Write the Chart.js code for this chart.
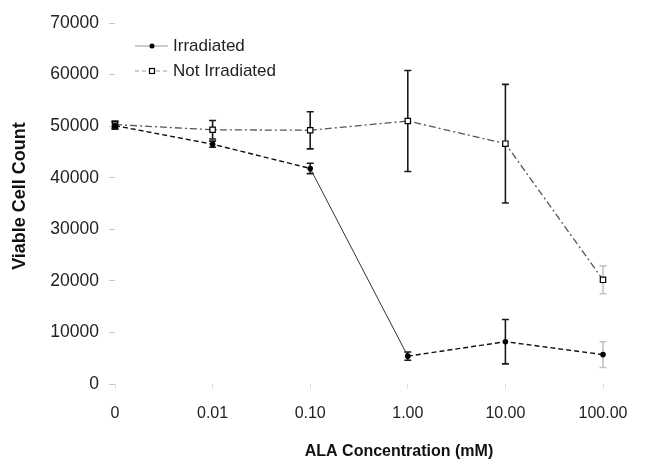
<!DOCTYPE html>
<html>
<head>
<meta charset="utf-8">
<script src="https://cdn.jsdelivr.net/npm/chart.js@4"></script>
<style>
  html, body { margin: 0; padding: 0; background: #fff; }
  #wrap { width: 649px; height: 460px; }
</style>
</head>
<body>
<div id="wrap"><canvas id="c" width="649" height="460"></canvas></div>
<script>
// ---- data ----
const categories = ["0", "0.01", "0.10", "1.00", "10.00", "100.00"];
const irradiated = [50100, 46500, 41800, 5400, 8200, 5700];
const irradiatedErr = [700, 600, 1000, 800, 4300, 2500];
const notIrradiated = [50300, 49300, 49200, 51000, 46600, 20200];
const notIrradiatedErr = [700, 1800, 3600, 9800, 11500, 2700];
const yTicks = [0, 10000, 20000, 30000, 40000, 50000, 60000, 70000];
const seriesNames = ["Irradiated", "Not Irradiated"];
const xTitle = "ALA Concentration (mM)";
const yTitle = "Viable Cell Count";

const FONT = "'Liberation Sans', Arial, sans-serif";

const errorBars = {
  id: 'errorBars',
  beforeDatasetsDraw(chart) {
    const ctx = chart.ctx;
    const xs = chart.scales.x, ys = chart.scales.y;
    chart.data.datasets.forEach((ds) => {
      const errs = ds.errors;
      if (!errs) return;
      ctx.save();
      ctx.lineWidth = 1.6;
      ds.data.forEach((v, i) => {
        // the last column's error bars are printed very faintly in the source
        ctx.strokeStyle = i === ds.data.length - 1 ? '#c4c4c4' : '#1a1a1a';
        const x = xs.getPixelForValue(i);
        const t = ys.getPixelForValue(v + errs[i]);
        const b = ys.getPixelForValue(v - errs[i]);
        ctx.beginPath();
        ctx.moveTo(x, t); ctx.lineTo(x, b);
        ctx.moveTo(x - 3.5, t); ctx.lineTo(x + 3.5, t);
        ctx.moveTo(x - 3.5, b); ctx.lineTo(x + 3.5, b);
        ctx.stroke();
      });
      ctx.restore();
    });
  }
};

const titlesAndLegend = {
  id: 'titlesAndLegend',
  afterDraw(chart) {
    const ctx = chart.ctx;
    // legend
    const x0 = 135, x1 = 168, rows = [46, 71];
    chart.data.datasets.forEach((ds, i) => {
      const y = rows[i];
      ctx.save();
      ctx.strokeStyle = '#9a9a9a';
      ctx.lineWidth = 1;
      ctx.setLineDash(i === 0 ? [] : [4, 3]);
      ctx.beginPath(); ctx.moveTo(x0, y); ctx.lineTo(x1, y); ctx.stroke();
      ctx.setLineDash([]);
      const cx = 152;
      if (i === 0) {
        ctx.fillStyle = '#000';
        ctx.beginPath(); ctx.arc(cx, y, 2.5, 0, Math.PI * 2); ctx.fill();
      } else {
        ctx.fillStyle = '#fff';
        ctx.strokeStyle = '#000';
        ctx.lineWidth = 1.2;
        ctx.fillRect(cx - 2.5, y - 2.5, 5, 5);
        ctx.strokeRect(cx - 2.5, y - 2.5, 5, 5);
      }
      ctx.fillStyle = '#222';
      ctx.font = '17px ' + FONT;
      ctx.textBaseline = 'middle';
      ctx.textAlign = 'left';
      ctx.fillText(ds.label, 173, y);
      ctx.restore();
    });
    // axis titles
    ctx.save();
    ctx.fillStyle = '#111';
    ctx.textAlign = 'center';
    ctx.textBaseline = 'middle';
    ctx.font = 'bold 16px ' + FONT;
    ctx.fillText(xTitle, 399, 452);
    ctx.translate(20, 196);
    ctx.rotate(-Math.PI / 2);
    ctx.font = 'bold 18px ' + FONT;
    ctx.fillText(yTitle, 0, 0);
    ctx.restore();
  }
};

new Chart(document.getElementById('c'), {
  type: 'line',
  data: {
    labels: categories,
    datasets: [
      {
        label: seriesNames[0],
        data: irradiated,
        errors: irradiatedErr,
        borderColor: '#111',
        borderWidth: 1.3,
        borderDash: [],
        segment: {
          borderDash: c => (c.p0DataIndex === 2 ? [] : [5, 3]),
          borderWidth: c => (c.p0DataIndex === 2 ? 1 : 1.4),
          borderColor: c => (c.p0DataIndex === 2 ? '#333' : '#111')
        },
        pointStyle: 'circle',
        pointRadius: 2.8,
        pointBackgroundColor: '#000',
        pointBorderColor: '#000',
        pointBorderWidth: 0,
        tension: 0,
        fill: false
      },
      {
        label: seriesNames[1],
        data: notIrradiated,
        errors: notIrradiatedErr,
        borderColor: '#555',
        borderWidth: 1.3,
        borderDash: [7, 3, 2, 3],
        pointStyle: 'rect',
        pointRadius: 3.8,
        pointBackgroundColor: '#fff',
        pointBorderColor: '#000',
        pointBorderWidth: 1.2,
        tension: 0,
        fill: false
      }
    ]
  },
  options: {
    responsive: false,
    animation: false,
    layout: { padding: { left: 0, right: 46, top: 23, bottom: 0 } },
    plugins: {
      legend: { display: false },
      tooltip: { enabled: false }
    },
    scales: {
      x: {
        type: 'category',
        offset: false,
        border: { display: false },
        grid: { display: true, drawOnChartArea: false, drawTicks: true, tickLength: 5, color: '#e0e0e0' },
        ticks: { color: '#222', font: { family: FONT, size: 16 }, padding: 15, maxRotation: 0, autoSkip: false },
        title: { display: false },
        afterFit(s) { s.height = 76; }
      },
      y: {
        min: 0, max: 70000,
        border: { display: false },
        grid: { display: true, drawOnChartArea: false, drawTicks: true, tickLength: 6, color: '#c8c8c8' },
        afterBuildTicks(s) { s.ticks = yTicks.map(v => ({ value: v })); },
        ticks: { color: '#222', font: { family: FONT, size: 17.5 }, padding: 10, callback: v => String(v) },
        title: { display: false },
        afterFit(s) { s.width = 115; }
      }
    }
  },
  plugins: [errorBars, titlesAndLegend]
});
</script>
</body>
</html>
